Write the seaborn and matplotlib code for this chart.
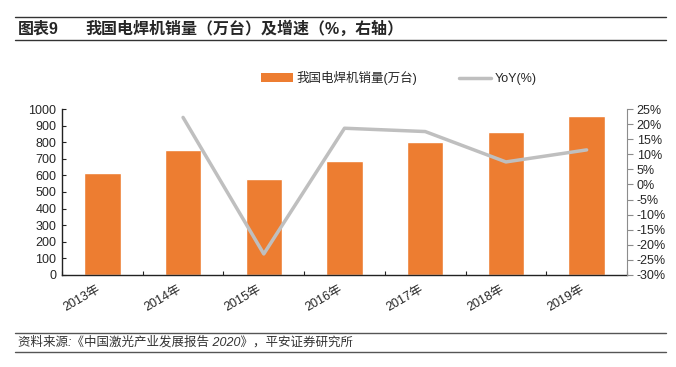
import numpy as np
import pandas as pd
import seaborn as sns
from matplotlib import pyplot as plt
from matplotlib.lines import Line2D
from matplotlib.patches import Patch
from matplotlib.ticker import MultipleLocator, FuncFormatter

years = ['2013年', '2014年', '2015年', '2016年', '2017年', '2018年', '2019年']
sales = [617, 754, 579, 689, 804, 865, 961]  # 万台
yoy = [np.nan, 22.3, -23.1, 18.7, 17.6, 7.5, 11.5]  # %

title_no = '图表9'
title = '我国电焊机销量（万台）及增速（%，右轴）'
source = '资料来源:《中国激光产业发展报告 2020》，平安证券研究所'
bar_label = '我国电焊机销量(万台)'
line_label = 'YoY(%)'

bar_color = '#ED7D31'
line_color = '#BFBFBF'

sns.set_style('white')
plt.rcParams['font.family'] = ['Liberation Sans', 'Noto Sans CJK SC', 'DejaVu Sans']
plt.rcParams['axes.unicode_minus'] = False

df = pd.DataFrame({'year': years, 'sales': sales, 'yoy': yoy})
df['pos'] = np.arange(len(df))

fig = plt.figure(figsize=(6.76, 3.67), dpi=100)
ax = fig.add_axes([0.0917, 0.2515, 0.8358, 0.4507])

sns.barplot(data=df, x='year', y='sales', color=bar_color, width=0.45,
            saturation=1, ax=ax)
ax.set_xlim(-0.5, len(years) - 0.5)
ax.set_ylim(0, 1000)
ax.yaxis.set_major_locator(MultipleLocator(100))
ax.set_xlabel('')
ax.set_ylabel('')

for side in ['top', 'right']:
    ax.spines[side].set_visible(False)
for side in ['left', 'bottom']:
    ax.spines[side].set_color('#222222')
    ax.spines[side].set_linewidth(1.0)

ax.tick_params(axis='y', direction='in', length=3, width=0.8, color='#222222',
               labelsize=9, pad=4, left=True)
ax.tick_params(axis='x', which='major', length=0, labelsize=9, pad=6)
ax.set_xticks(np.arange(-0.5, len(years)), minor=True)
ax.tick_params(axis='x', which='minor', direction='in', length=3, width=0.8,
               color='#222222', bottom=True)
for lbl in ax.get_xticklabels():
    lbl.set_rotation(30)
    lbl.set_ha('right')

ax2 = ax.twinx()
sns.lineplot(data=df, x='pos', y='yoy', color=line_color, linewidth=2.5,
             ax=ax2, legend=False)
ax2.set_ylim(-30, 25)
ax2.yaxis.set_major_locator(MultipleLocator(5))
ax2.yaxis.set_major_formatter(FuncFormatter(lambda v, p: f'{v:.0f}%'))
ax2.set_xlabel('')
ax2.set_ylabel('')
for side in ['top', 'left', 'bottom']:
    ax2.spines[side].set_visible(False)
ax2.spines['right'].set_color('#8C8C8C')
ax2.spines['right'].set_linewidth(0.8)
ax2.tick_params(axis='y', direction='out', length=4, width=0.8, color='#8C8C8C',
                labelsize=9, pad=3, right=True)
ax2.set_xlim(-0.5, len(years) - 0.5)

handles = [
    Patch(facecolor=bar_color, edgecolor='none', label=bar_label),
    Line2D([], [], color=line_color, linewidth=2.5, label=line_label),
]
fig.legend(handles=handles, loc='center', bbox_to_anchor=(0.59, 0.787),
           ncol=2, frameon=False, fontsize=9, handlelength=2.6,
           handleheight=0.75, handletextpad=0.3, columnspacing=3.3)

# title band
fig.add_artist(Line2D([0.022, 0.985], [0.954, 0.954], color='#333333', lw=1.0,
                      transform=fig.transFigure))
fig.add_artist(Line2D([0.022, 0.985], [0.891, 0.891], color='#333333', lw=1.0,
                      transform=fig.transFigure))
fig.text(0.027, 0.922, title_no, fontsize=11.5, fontweight='bold', va='center')
fig.text(0.127, 0.922, title, fontsize=11.5, fontweight='bold', va='center')

# source band
fig.add_artist(Line2D([0.022, 0.985], [0.092, 0.092], color='#555555', lw=1.0,
                      transform=fig.transFigure))
fig.add_artist(Line2D([0.022, 0.985], [0.041, 0.041], color='#555555', lw=1.0,
                      transform=fig.transFigure))
fig.text(0.027, 0.066, source, fontsize=9, style='italic', color='#333333',
         va='center')

fig.savefig('out.png', dpi=100)
